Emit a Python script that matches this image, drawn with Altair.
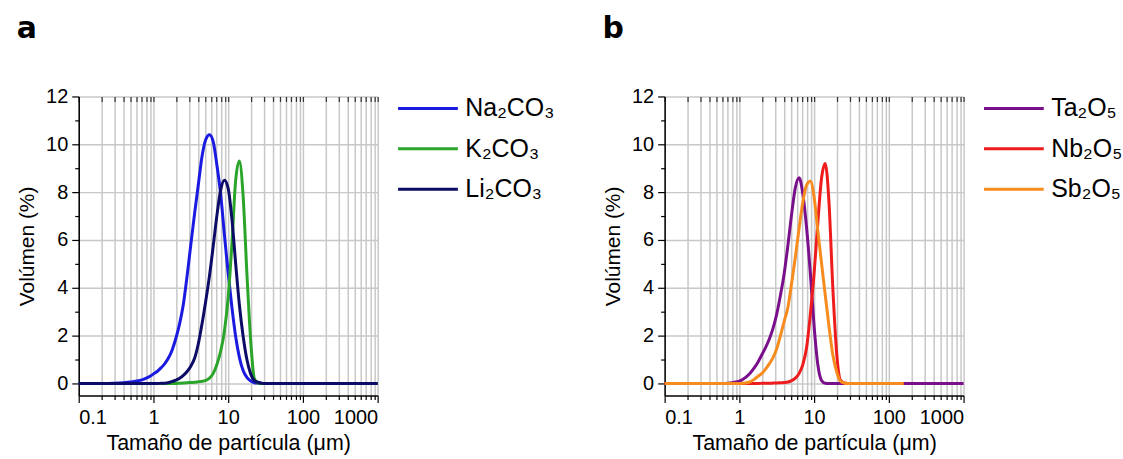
import altair as alt
import pandas as pd

# particle size bins (µm)
SIZES = [0.1, 0.2, 0.3, 0.4, 0.5, 0.6, 0.7, 0.8, 0.9,
         1.0, 1.12, 1.26, 1.41, 1.58, 1.78, 2.0, 2.24, 2.51, 2.82, 3.16, 3.55, 3.98, 4.47, 5.01, 5.62, 6.31, 7.08, 7.94, 8.91,
         10.0, 11.2, 12.6, 14.1, 15.8, 17.8, 20.0, 22.4, 25.1, 28.2,
         31.6, 40, 60, 100, 158, 250, 500, 1000]

# panel a
NA2CO3 = [0, 0, 0.01, 0.03, 0.06, 0.1, 0.15, 0.22, 0.3,
          0.4, 0.5, 0.65, 0.82, 1.05, 1.4, 1.9, 2.5, 3.3, 4.5, 5.8, 7.1, 8.3, 9.5, 10.2, 10.4, 10.1, 9.1, 7.9, 6.2,
          4.6, 3.2, 1.95, 1.1, 0.55, 0.25, 0.1, 0.03, 0.01, 0,
          0, 0, 0, 0, 0, 0, 0, 0]
K2CO3 = [0, 0, 0, 0, 0, 0, 0, 0, 0,
         0, 0, 0, 0, 0, 0, 0, 0.01, 0.02, 0.03, 0.04, 0.05, 0.07, 0.09, 0.13, 0.22, 0.42, 0.8, 1.35, 2.2,
         3.6, 5.8, 8.5, 9.3, 7.9, 4.6, 1.8, 0.2, 0.02, 0,
         0, 0, 0, 0, 0, 0, 0, 0]
LI2CO3 = [0, 0, 0, 0, 0, 0, 0, 0, 0,
          0, 0, 0.005, 0.01, 0.03, 0.08, 0.14, 0.22, 0.34, 0.5, 0.72, 1.05, 1.65, 2.5, 3.45, 4.5, 5.75, 7.05, 8.1, 8.5,
          8.15, 6.9, 5.0, 3.3, 2.0, 1.0, 0.4, 0.12, 0.05, 0.01,
          0, 0, 0, 0, 0, 0, 0, 0]

# panel b
TA2O5 = [0, 0, 0, 0, 0, 0, 0.01, 0.03, 0.06,
         0.1, 0.18, 0.3, 0.45, 0.65, 0.9, 1.2, 1.5, 1.85, 2.3, 2.9, 3.7, 4.6, 5.8, 7.1, 8.2, 8.6, 7.9, 6.5, 4.6,
         2.4, 0.8, 0.12, 0.01, 0, 0, 0, 0, 0, 0,
         0, 0, 0, 0, 0, 0, 0, 0]
NB2O5 = [0, 0, 0, 0, 0, 0, 0, 0, 0,
         0, 0, 0, 0, 0, 0, 0.005, 0.01, 0.01, 0.015, 0.02, 0.03, 0.04, 0.06, 0.12, 0.22, 0.42, 0.8, 1.5, 2.9,
         4.6, 6.7, 8.6, 9.2, 7.6, 4.0, 1.3, 0.15, 0.02, 0,
         0, 0, 0, 0, 0]
SB2O5 = [0, 0, 0, 0, 0, 0, 0, 0, 0,
         0, 0.01, 0.03, 0.08, 0.17, 0.3, 0.42, 0.6, 0.82, 1.08, 1.45, 2.0, 2.6, 3.2, 4.2, 5.3, 6.5, 7.6, 8.3, 8.45,
         7.8, 6.4, 5.0, 3.7, 2.4, 1.2, 0.5, 0.1, 0.02, 0,
         0, 0, 0, 0, 0]

LABELS_A = ["Na₂CO₃", "K₂CO₃", "Li₂CO₃"]
COLORS_A = ["#1a1ae0", "#2aa52a", "#0c0c66"]
LABELS_B = ["Ta₂O₅", "Nb₂O₅", "Sb₂O₅"]
COLORS_B = ["#7a0f8c", "#ee1c1c", "#f78c1e"]

X_TICKS = [round(m * 10 ** e, 6) for e in range(-1, 3) for m in range(1, 10)] + [1000]
X_MAJOR = [0.1, 1, 10, 100, 1000]
Y_TICKS = list(range(0, 13))

FONT = "Liberation Sans"
major_test = " || ".join(f"datum.value == {v}" for v in X_MAJOR)


def panel(labels, series, colors, letter):
    recs = []
    for k, (lab, vals) in enumerate(zip(labels, series)):
        for i, (x, v) in enumerate(zip(SIZES, vals)):
            recs.append({"size": x, "vol": v, "serie": lab, "k": k, "i": i})
    df = pd.DataFrame(recs)

    xscale = alt.Scale(type="log", domain=[0.1, 1000], nice=False)
    yscale = alt.Scale(domain=[-0.5, 12], nice=False, zero=False)

    yenc = alt.Y(
        "vol:Q", scale=yscale, title="Volúmen (%)",
        axis=alt.Axis(
            values=Y_TICKS,
            labelExpr="datum.value % 2 == 0 ? datum.label : ''",
            tickSize=alt.condition("datum.value % 2 == 0", alt.value(7), alt.value(4)),
            gridOpacity=alt.condition("datum.value % 2 == 0", alt.value(1), alt.value(0)),
            grid=True, gridColor="#c8c8c8", gridWidth=1.5,
            labelFont=FONT, labelFontSize=20, labelColor="black", labelPadding=4,
            titleFont=FONT, titleFontSize=21, titleFontWeight="normal", titleColor="black",
            titlePadding=8, domainColor="black", domainWidth=1.5,
            tickColor="black", tickWidth=1.2, labelOverlap=False,
        ),
    )
    main = alt.Chart(df).mark_line(strokeWidth=3, interpolate="monotone").encode(
        x=alt.X(
            "size:Q", scale=xscale, title="Tamaño de partícula (μm)",
            axis=alt.Axis(
                values=X_TICKS, format="~g",
                labelExpr=f"({major_test}) ? datum.label : ''",
                tickSize=alt.condition(major_test, alt.value(7), alt.value(4)),
                grid=True, gridColor="#c8c8c8", gridWidth=1.5,
                labelFont=FONT, labelFontSize=20, labelColor="black", labelPadding=5,
                titleFont=FONT, titleFontSize=21.5, titleFontWeight="normal", titleColor="black",
                titlePadding=5, domainColor="black", domainWidth=1.5,
                tickColor="black", tickWidth=1.2, labelOverlap=False,
            ),
        ),
        y=yenc,
        color=alt.Color(
            "serie:N", scale=alt.Scale(domain=labels, range=colors), sort=labels,
            legend=alt.Legend(
                title="", orient="none", legendX=319, legendY=-8,
                symbolType="stroke", symbolSize=3600, symbolStrokeWidth=3,
                clipHeight=40, rowPadding=0.5, padding=0,
                labelFont=FONT, labelFontSize=25, labelColor="black", labelOffset=6,
                labelLimit=300,
            ),
        ),
        order=alt.Order("i:Q"),
    )
    top = alt.Chart(df).mark_line(opacity=0).encode(
        x=alt.X(
            "size:Q", scale=xscale, title="",
            axis=alt.Axis(orient="top", values=X_TICKS, labels=False, domain=False,
                          grid=False, tickSize=5, offset=-5, tickColor="#333333", tickWidth=1.2),
        ),
        y=yenc,
    )
    return alt.layer(main, top).resolve_axis(x="independent").properties(
        width=300, height=300,
        title=alt.Title(letter, anchor="start", frame="bounds", font="DejaVu Sans",
                        fontSize=30, fontWeight="bold", color="black", offset=43),
    )


pa = panel(LABELS_A, [NA2CO3, K2CO3, LI2CO3], COLORS_A, "a")
pb = panel(LABELS_B, [TA2O5, NB2O5, SB2O5], COLORS_B, "b")

chart = alt.hconcat(pa, pb, spacing=47).resolve_scale(color="independent").properties(
    padding={"left": 16, "top": 13, "right": 0, "bottom": 0},
    background="white",
).configure_view(strokeWidth=0)

chart.save("out.html", embed_options={"renderer": "svg", "actions": False})
